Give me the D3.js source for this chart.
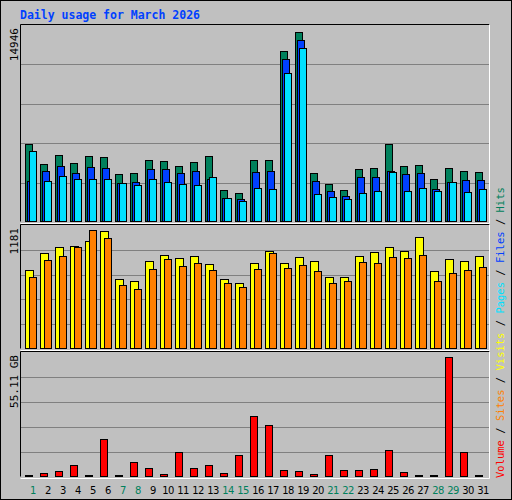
<!DOCTYPE html>
<html><head><meta charset="utf-8">
<script src="https://cdn.jsdelivr.net/npm/d3@7"></script>
<style>body{margin:0;background:#fff}</style>
</head><body>
<script>
// daily numbers, March 2026
var days = d3.range(1, 32);
var weekend = [1, 7, 8, 14, 15, 21, 22, 28, 29];
var hits = [5978,4484,5156,4559,5082,5007,3662,3811,4783,4708,4334,4633,5082,2466,2242,4783,4783,13152,14647,3737,2914,2466,4110,4185,5978,4334,4409,3288,4185,3961,3886];
var files = [3139,3961,4334,3811,4260,4185,2989,3064,4110,4110,3811,3961,3288,1868,1794,3886,3961,12555,14049,3139,2391,2018,3438,3438,3961,3662,3737,2541,3064,3213,3213];
var pages = [5455,3139,3512,3288,3288,3288,2989,2840,3288,3064,2914,2840,3438,1868,1644,2616,2541,11508,13377,2167,1943,1794,2242,2391,3886,2391,2616,2391,3064,2317,2541];
var visits = [756,917,973,983,1030,1125,671,652,841,898,869,888,813,671,624,822,936,822,879,841,690,690,888,926,973,936,1068,747,860,841,888];
var sites = [690,851,888,973,1134,1058,614,567,765,860,794,822,756,624,595,765,917,775,803,747,624,652,832,822,879,869,898,643,728,756,784];
var volume = [0.74,1.63,2.5,5.2,0.74,16.6,0.74,6.4,4.1,1.2,11.2,4.1,5.2,1.6,9.6,26.8,22.8,3.3,2.8,1.2,9.6,3.3,3.3,3.7,11.7,2.4,0.74,0.74,53.0,11.2,0.74];
var maxHits = 14946, maxVisits = 1181, maxVol = 55.11;

var svg = d3.select("body").append("svg").attr("width", 512).attr("height", 500)
    .style("font-family", "DejaVu Sans Mono, monospace");
svg.append("rect").attr("x", 0.5).attr("y", 0.5).attr("width", 511).attr("height", 499)
    .attr("fill", "#c0c0c0").attr("stroke", "#000");
svg.append("text").attr("x", 20).attr("y", 19).text("Daily usage for March 2026")
    .attr("fill", "#0040ff").attr("font-weight", "bold").attr("font-size", 11.5);

var x = d3.scaleBand().domain(days).range([23, 488]).paddingInner(0);

function panel(top, bottom, max, label, series) {
    var y = d3.scaleLinear().domain([0, max]).range([bottom, top]);
    var g = svg.append("g");
    g.append("rect").attr("x", 20.5).attr("y", top - 0.5).attr("width", 469).attr("height", bottom - top)
        .attr("fill", "#c0c0c0");
    g.append("path").attr("d", "M20.5," + (bottom - 0.5) + "V" + (top - 0.5) + "H489.5").attr("stroke", "#000").attr("fill", "none");
    g.append("path").attr("d", "M20.5," + (bottom + 1.5) + "H489.5V" + (top - 0.5)).attr("stroke", "#fff").attr("fill", "none");
    g.selectAll(".grid").data([0.2, 0.4, 0.6, 0.8]).enter().append("line")
        .attr("x1", 21).attr("x2", 489)
        .attr("y1", function (d) { return Math.round(y(d * max)) + 0.5; })
        .attr("y2", function (d) { return Math.round(y(d * max)) + 0.5; })
        .attr("stroke", "#808080");
    series.forEach(function (s) {
        g.selectAll(null).data(s.values).enter().append("rect")
            .attr("x", function (d, i) { return x(days[i]) + s.off + 0.5; })
            .attr("y", function (d) { return Math.round(y(d)) + 0.5; })
            .attr("width", s.w)
            .attr("height", function (d) { return Math.max(1, bottom - 1 - Math.round(y(d))); })
            .attr("fill", s.color).attr("stroke", "#000");
    });
    svg.append("text").attr("transform", "translate(18," + (top + 3) + ") rotate(-90)")
        .attr("text-anchor", "end").attr("font-size", 11).text(label);
    return y;
}

panel(25, 222, maxHits * 200 / 197, "14946", [
    {values: hits, color: "#00805c", off: 2, w: 7},
    {values: files, color: "#0040ff", off: 4, w: 7},
    {values: pages, color: "#00e0ff", off: 6, w: 7}
]);
panel(225, 349, maxVisits, "1181", [
    {values: visits, color: "#ffff00", off: 2, w: 8},
    {values: sites, color: "#ff8000", off: 6, w: 7}
]);
panel(352, 477, maxVol, "55.11 GB", [
    {values: volume, color: "#ff0000", off: 2, w: 7}
]);

svg.selectAll(".day").data(days).enter().append("text")
    .attr("x", function (d) { return x(d) + 10; })
    .attr("y", 494).attr("text-anchor", "middle").attr("font-size", 10)
    .attr("letter-spacing", -0.5)
    .attr("font-family", "DejaVu Sans, sans-serif")
    .attr("fill", function (d) { return weekend.indexOf(d) >= 0 ? "#00805c" : "#000"; })
    .text(function (d) { return d; });

var legend = [["Volume", "#ff0000"], [" / ", "#000"], ["Sites", "#ff8000"], [" / ", "#000"],
    ["Visits", "#ffff00"], [" / ", "#000"], ["Pages", "#00e0ff"], [" / ", "#000"],
    ["Files", "#0040ff"], [" / ", "#000"], ["Hits", "#00805c"]];
var lt = svg.append("text").attr("transform", "translate(504,478) rotate(-90)").attr("font-size", 10.5);
lt.selectAll("tspan").data(legend).enter().append("tspan")
    .attr("fill", function (d) { return d[1]; }).attr("xml:space", "preserve").text(function (d) { return d[0]; });
</script>
</body></html>
